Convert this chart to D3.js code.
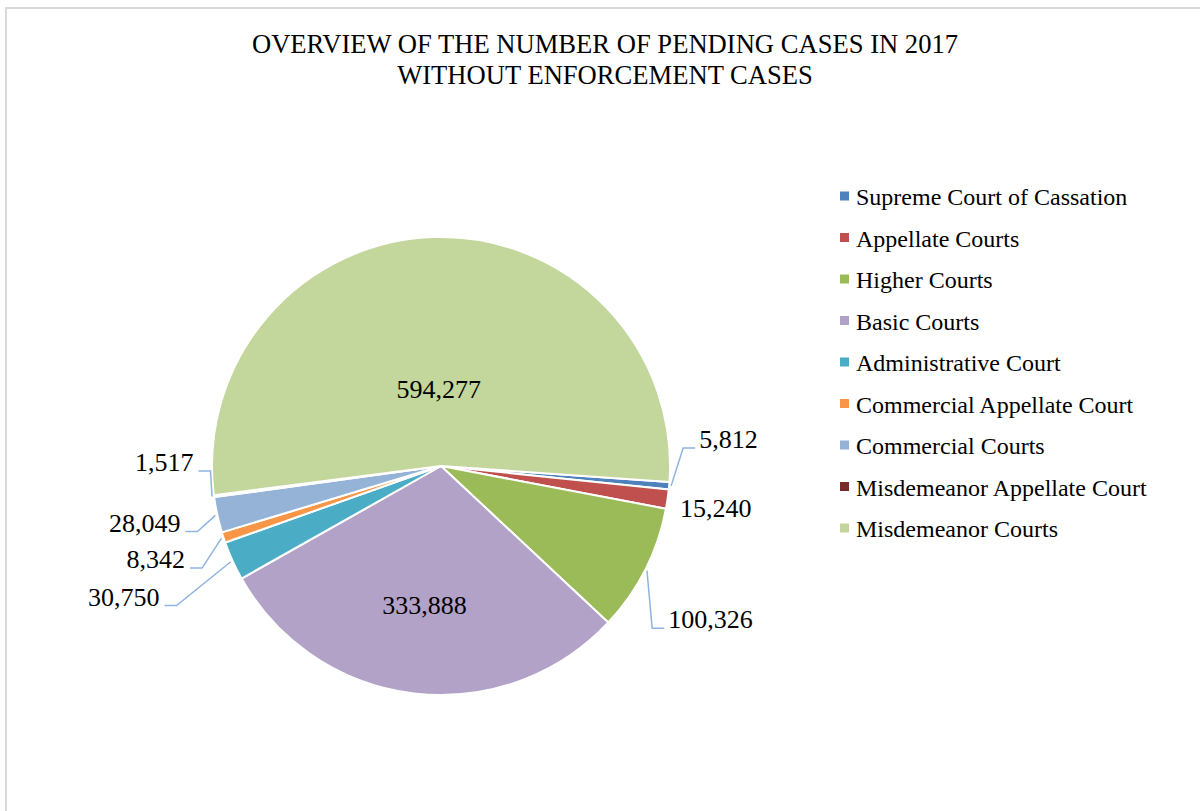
<!DOCTYPE html>
<html>
<head>
<meta charset="utf-8">
<script src="https://cdn.jsdelivr.net/npm/d3@7"></script>
<style>
  body { margin: 0; background: #fff; }
  svg { display: block; font-family: "Liberation Serif", "Times New Roman", serif; }
</style>
</head>
<body>
<script>
// Pending cases by court, 2017 (enforcement cases excluded)
const courts = [
  "Supreme Court of Cassation",
  "Appellate Courts",
  "Higher Courts",
  "Basic Courts",
  "Administrative Court",
  "Commercial Appellate Court",
  "Commercial Courts",
  "Misdemeanor Appellate Court",
  "Misdemeanor Courts"
];
const pending = [5812, 15240, 100326, 333888, 30750, 8342, 28049, 1517, 594277];
const colors = [
  "#4F81BD", "#C0504D", "#9BBB59", "#B3A2C7", "#4BACC6",
  "#F79646", "#95B3D7", "#772C2A", "#C3D69B"
];
const titleLines = [
  "OVERVIEW OF THE NUMBER OF PENDING CASES IN 2017",
  "WITHOUT ENFORCEMENT CASES"
];

const width = 1200;
const height = 811;
const cx = 441, cy = 466, radius = 229;

// label placement, Excel style: inside labels at a fraction of the radius,
// outside labels shifted from the slice edge, some with a leader line
const labelPlace = {
  "Supreme Court of Cassation": { dx: 30, dy: -37.6, leader: true },
  "Appellate Courts": { dx: 12.4, dy: 17.5, leader: false },
  "Higher Courts": { dx: 23, dy: 58.5, leader: true },
  "Basic Courts": { inside: 0.61 },
  "Administrative Court": { dx: -73, dy: 44.7, leader: true },
  "Commercial Appellate Court": { dx: -38.4, dy: 30.6, leader: true },
  "Commercial Courts": { dx: -36.8, dy: 16.7, leader: true },
  "Misdemeanor Appellate Court": { dx: -20.5, dy: -25.2, leader: true },
  "Misdemeanor Courts": { inside: 0.334 }
};

const data = courts.map((name, i) => ({ name, value: pending[i], color: colors[i] }));

const svg = d3
  .create("svg")
  .attr("viewBox", [0, 0, width, height])
  .attr("width", width)
  .attr("height", height);

// chart area border
svg
  .append("rect")
  .attr("x", 6)
  .attr("y", 8)
  .attr("width", width + 50)
  .attr("height", height + 50)
  .attr("fill", "none")
  .attr("stroke", "#d9d9d9")
  .attr("stroke-width", 2);

svg
  .append("g")
  .selectAll("text")
  .data(titleLines)
  .join("text")
  .attr("x", 605)
  .attr("y", (d, i) => 53 + i * 31)
  .attr("text-anchor", "middle")
  .attr("font-size", 26.6)
  .attr("fill", "#000")
  .text((d) => d);

const startAngle = (94 * Math.PI) / 180;
const pie = d3
  .pie()
  .sort(null)
  .value((d) => d.value)
  .startAngle(startAngle)
  .endAngle(startAngle + 2 * Math.PI);

const arcs = pie(data);
const arc = d3.arc().innerRadius(0).outerRadius(radius);

const g = svg.append("g").attr("transform", `translate(${cx},${cy})`);

g.selectAll("path")
  .data(arcs)
  .join("path")
  .attr("d", arc)
  .attr("fill", (d) => d.data.color)
  .attr("stroke", "#fff")
  .attr("stroke-width", 2)
  .attr("stroke-linejoin", "round");

const format = d3.format(",");
const midPoint = (d, r) => {
  const a = (d.startAngle + d.endAngle) / 2;
  return [r * Math.sin(a), -r * Math.cos(a)];
};

const labels = g.append("g").attr("font-size", 26).attr("fill", "#000");

arcs.forEach((d) => {
  const place = labelPlace[d.data.name];
  if (place.inside) {
    const [x, y] = midPoint(d, radius * place.inside);
    labels
      .append("text")
      .attr("x", x)
      .attr("y", y)
      .attr("dy", "0.34em")
      .attr("text-anchor", "middle")
      .text(format(d.data.value));
    return;
  }
  const [ex, ey] = midPoint(d, radius);
  const tx = ex + place.dx;
  const ty = ey + place.dy;
  const right = place.dx > 0;
  labels
    .append("text")
    .attr("x", tx)
    .attr("y", ty)
    .attr("text-anchor", right ? "start" : "end")
    .text(format(d.data.value));

  if (place.leader) {
    const [lx, ly] = midPoint(d, radius + 2);
    const x0 = right ? tx - 4 : tx + 5;
    const x1 = right ? x0 - 12 : x0 + 12;
    g.append("polyline")
      .attr("points", [[x0, ty], [x1, ty], [lx, ly]].map((p) => p.join(",")).join(" "))
      .attr("fill", "none")
      .attr("stroke", "#8EB4E3")
      .attr("stroke-width", 1.5);
  }
});

// legend
const legend = svg
  .append("g")
  .selectAll("g")
  .data(data)
  .join("g")
  .attr("transform", (d, i) => `translate(840,${196 + i * 41.5})`);

legend
  .append("rect")
  .attr("x", 0)
  .attr("y", -4.5)
  .attr("width", 9)
  .attr("height", 9)
  .attr("fill", (d) => d.color);

legend
  .append("text")
  .attr("x", 16)
  .attr("y", 9)
  .attr("font-size", 24)
  .attr("fill", "#000")
  .text((d) => d.name);

document.body.appendChild(svg.node());
</script>
</body>
</html>
